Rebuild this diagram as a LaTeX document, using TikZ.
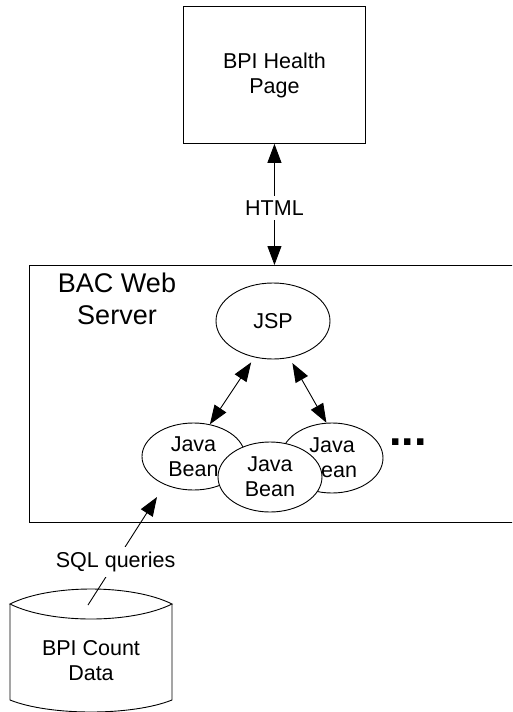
\documentclass[tikz,border=0pt]{standalone}
\usepackage{fontspec}
\setmainfont{Liberation Sans}
\usetikzlibrary{arrows.meta,shapes.geometric}
\begin{document}
\begin{tikzpicture}[x=1pt,y=-1pt,
  every node/.style={font=\fontsize{21.5}{25}\selectfont, align=center},
  line/.style={draw=black, line width=0.9pt},
  tip/.style={-{Triangle[length=19pt,width=14pt]}},
  dtip/.style={{Triangle[length=19pt,width=14pt]}-{Triangle[length=19pt,width=14pt]}},
  lbl/.style={fill=white, inner sep=5pt},
  bean/.style={ellipse, line, fill=white, inner sep=0pt},
  boxnode/.style={rectangle, line, inner sep=0pt, anchor=north west}
]
\useasboundingbox (0,0) rectangle (512,712);
\clip (0,0) rectangle (512,712);

% BPI Health Page
\node[boxnode, minimum width=182pt, minimum height=137pt] (page) at (183,6) {BPI Health\\Page};

% BAC Web Server
\node[boxnode, minimum width=495pt, minimum height=257pt] (server) at (29,265) {};
\node[font=\fontsize{27}{32}\selectfont] (serverlbl) at (117,299) {BAC Web\\Server};

% HTML connector
\draw[line, dtip] (page.south) -- (page.south |- server.north)
  node[lbl, pos=0.53] (html) {HTML};

% JSP
\node[ellipse, line, inner sep=0pt, minimum width=114pt, minimum height=76pt] (jsp) at (273,321) {JSP};

% Java Beans
\node[bean, minimum width=103pt, minimum height=67pt] (lbean) at (193.5,456.5) {Java\\Bean};
\node[bean, minimum width=102pt, minimum height=70pt] (rbean) at (332,458) {Java\\Bean};
\node[bean, minimum width=104pt, minimum height=70pt] (mbean) at (270,477) {Java\\Bean};
\node[font=\fontsize{45}{45}\selectfont\bfseries, inner sep=0pt] (more) at (408,442) {...};

\draw[line, dtip, shorten <=6pt] (jsp.243) -- (lbean.63);
\draw[line, dtip, shorten <=6pt] (jsp.294) -- (rbean.99);

% Database
\draw[line] (10,604) .. controls (50,584) and (132,584) .. (172,604)
            .. controls (132,624) and (50,624) .. (10,604) -- cycle;
\draw[line] (10,604) -- (10,700) .. controls (50,716) and (132,716) .. (172,700) -- (172,604);
\node (db) at (91,661) {BPI Count\\Data};
\coordinate (dbtop) at (88,605);
\coordinate (sqlend) at (157,497);

\draw[line, tip] (dbtop) -- (sqlend) node[lbl, pos=0.4] (sql) {SQL queries};
\end{tikzpicture}
\end{document}
